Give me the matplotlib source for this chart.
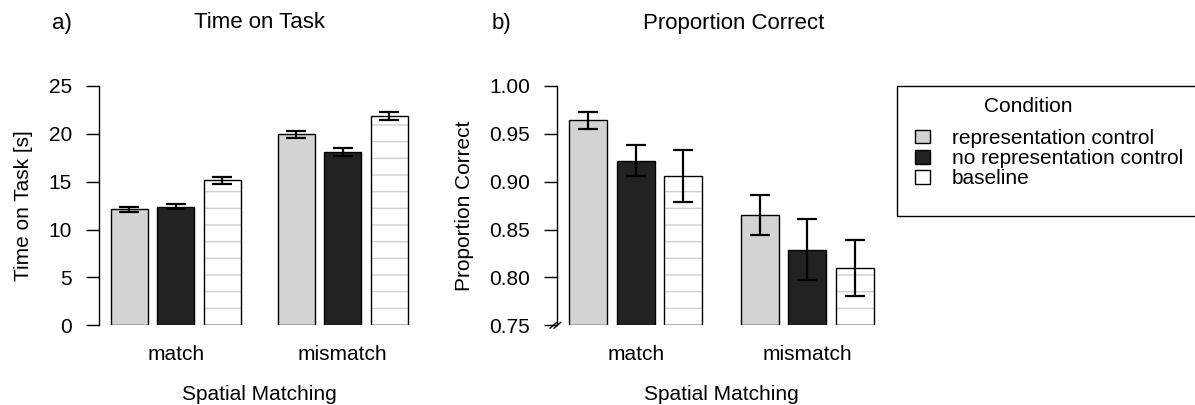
import matplotlib
matplotlib.use("Agg")
import matplotlib.pyplot as plt
from matplotlib.patches import Patch, Rectangle

plt.rcParams['font.family'] = ['Liberation Sans', 'DejaVu Sans']
plt.rcParams['hatch.linewidth'] = 1.0

groups = ['match', 'mismatch']
conditions = ['representation control', 'no representation control', 'baseline']
colors = ['#d3d3d3', '#222222', '#ffffff']

time_mean = [[12.1, 12.4, 15.15], [19.97, 18.13, 21.9]]
time_err = [[0.24, 0.3, 0.35], [0.36, 0.4, 0.4]]

prop_mean = [[0.964, 0.922, 0.906], [0.865, 0.829, 0.810]]
prop_err = [[0.009, 0.016, 0.027], [0.021, 0.032, 0.029]]

fs = 15
fig = plt.figure(figsize=(11.95, 4.05), dpi=100)
W, H = 1195, 405


def px_axes(x0, x1, y_top, y_bot):
    return fig.add_axes([x0 / W, 1 - y_bot / H, (x1 - x0) / W, (y_bot - y_top) / H])


def draw_panel(ax, means, errs, ylim, yticks, ticklabels):
    for g in range(len(groups)):
        for i in range(len(conditions)):
            x = 1.5 + g * 4.5 + i * 1.25
            if i == 2:
                # baseline: white with light horizontal hatching
                ax.bar(x, means[g][i] - ylim[0], bottom=ylim[0], width=1,
                       color='white', edgecolor='#d0d0d0', hatch='-', lw=0, zorder=2)
                ax.bar(x, means[g][i] - ylim[0], bottom=ylim[0], width=1,
                       facecolor='none', edgecolor='black', lw=1.0, zorder=3)
            else:
                ax.bar(x, means[g][i] - ylim[0], bottom=ylim[0], width=1,
                       color=colors[i], edgecolor='black', lw=1.0, zorder=3)
            ax.errorbar(x, means[g][i], yerr=errs[g][i], color='black',
                        capsize=7, elinewidth=1.6, capthick=1.6, zorder=4,
                        clip_on=False)
    ax.set_xlim(0.68, 9.32)
    ax.set_ylim(*ylim)
    for s in ['top', 'right', 'bottom']:
        ax.spines[s].set_visible(False)
    ax.spines['left'].set_linewidth(1.0)
    ax.set_yticks(yticks)
    ax.set_yticklabels(ticklabels, fontsize=fs)
    ax.tick_params(axis='y', direction='out', length=9.4, width=1.0, pad=10)
    ax.set_xticks([1.5 + g * 4.5 + 1.25 for g in range(len(groups))])
    ax.set_xticklabels(groups, fontsize=fs)
    ax.tick_params(axis='x', length=0, pad=14)
    ax.set_xlabel('Spatial Matching', fontsize=fs, labelpad=15)


ax1 = px_axes(99, 419.6, 86, 325.3)
draw_panel(ax1, time_mean, time_err, (0, 25), [0, 5, 10, 15, 20, 25],
           ['0', '5', '10', '15', '20', '25'])
ax1.set_ylabel('Time on Task [s]', fontsize=fs, labelpad=11)

ax2 = px_axes(556.7, 886.3, 86, 325.3)
pt = [0.75, 0.80, 0.85, 0.90, 0.95, 1.00]
draw_panel(ax2, prop_mean, prop_err, (0.75, 1.0), pt, ['%.2f' % v for v in pt])
ax2.set_ylabel('Proportion Correct', fontsize=fs, labelpad=11)

# axis break mark
for dx in (-0.012, 0.0):
    ax2.plot([dx - 0.008, dx + 0.012], [-0.012, 0.012], transform=ax2.transAxes,
             color='black', lw=1.0, clip_on=False, zorder=5)

fig.text(62 / W, 1 - 23 / H, 'a)', fontsize=16, ha='center', va='center')
fig.text(259 / W, 1 - 23 / H, 'Time on Task', fontsize=16, ha='center', va='center')
fig.text(501 / W, 1 - 23 / H, 'b)', fontsize=16, ha='center', va='center')
fig.text(734 / W, 1 - 23 / H, 'Proportion Correct', fontsize=16, ha='center', va='center')

# legend
fig.patches.append(Rectangle((897 / W, 1 - 216 / H), 320 / W, 130 / H,
                             transform=fig.transFigure, facecolor='white',
                             edgecolor='black', lw=1.0, clip_on=False))
fig.text(1028 / W, 1 - 106 / H, 'Condition', fontsize=fs, ha='center', va='center')
handles = [Patch(facecolor=c, edgecolor='black', lw=1.0) for c in colors]
fig.legend(handles, conditions, loc='upper left',
           bbox_to_anchor=(915 / W, 1 - 129 / H), frameon=False, fontsize=fs,
           handlelength=0.72, handleheight=0.63, handletextpad=1.06,
           labelspacing=0.05, borderpad=0, borderaxespad=0)

fig.savefig('out.png', dpi=100)
